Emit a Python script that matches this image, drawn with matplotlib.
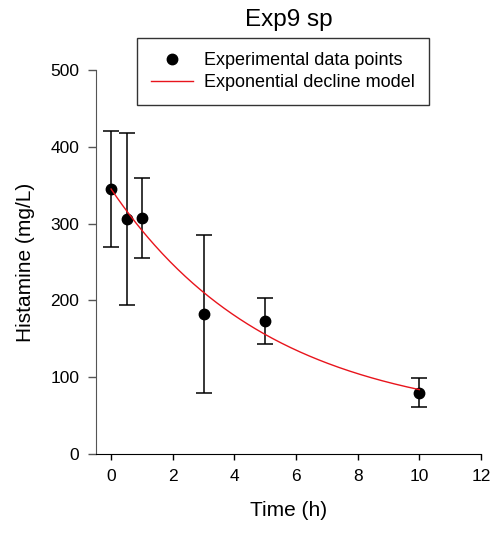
import numpy as np
import matplotlib
matplotlib.use("Agg")
from matplotlib import pyplot as plt
from matplotlib.lines import Line2D

plt.rcParams['font.family'] = ['Liberation Sans', 'DejaVu Sans']

# measured histamine concentration with standard deviation
time_h = [0, 0.5, 1, 3, 5, 10]
histamine = [345, 306, 307, 182, 173, 80]
histamine_sd = [75, 112, 52, 103, 30, 19]

# fitted exponential decline: plateau + amplitude * exp(-rate * t)
plateau = 40.0
amplitude = 305.0
rate = 0.194

model_color = '#e8141c'

fig = plt.figure(figsize=(4.94, 5.37), dpi=100)
ax = fig.add_axes([96 / 494, 1 - 454 / 537, (481 - 96) / 494, (454 - 70) / 537])

ax.errorbar(time_h, histamine, yerr=histamine_sd, fmt='o', color='black',
            markersize=7.5, capsize=5.5, elinewidth=1.1, capthick=1.1,
            zorder=3)

t_fit = np.linspace(0, 10, 200)
ax.plot(t_fit, plateau + amplitude * np.exp(-rate * t_fit), color=model_color,
        linewidth=1.0, zorder=4)

ax.set_xlim(-0.49, 12)
ax.set_ylim(0, 500)
ax.set_xticks(range(0, 13, 2))
ax.set_yticks(range(0, 501, 100))
for side in ('top', 'right'):
    ax.spines[side].set_visible(False)
ax.spines['left'].set_color('#555555')
ax.spines['bottom'].set_color('black')
ax.tick_params(axis='y', length=6, width=1, color='#555555', labelsize=12.5, pad=6)
ax.tick_params(axis='x', length=4, width=1, labelsize=12.5, pad=7)

ax.set_xlabel('Time (h)', fontsize=15, labelpad=12)
ax.set_ylabel('Histamine (mg/L)', fontsize=15, labelpad=11)
fig.text(288.5 / 494, 1 - 20 / 537, 'Exp9 sp', fontsize=17.5,
         ha='center', va='center')

handles = [
    Line2D([], [], linestyle='none', marker='o', color='black', markersize=7.5),
    Line2D([], [], color=model_color, linewidth=1.0),
]
labels = ['Experimental data points', 'Exponential decline model']
leg = fig.legend(handles, labels, loc='upper center',
                 bbox_to_anchor=(283 / 494, 1 - 38 / 537), fontsize=13,
                 frameon=True, fancybox=False, edgecolor='black',
                 handlelength=2.3, handletextpad=0.6, borderpad=0.8,
                 labelspacing=0.25, borderaxespad=0)
leg.get_frame().set_linewidth(1.0)

fig.savefig('out.png', dpi=100)
